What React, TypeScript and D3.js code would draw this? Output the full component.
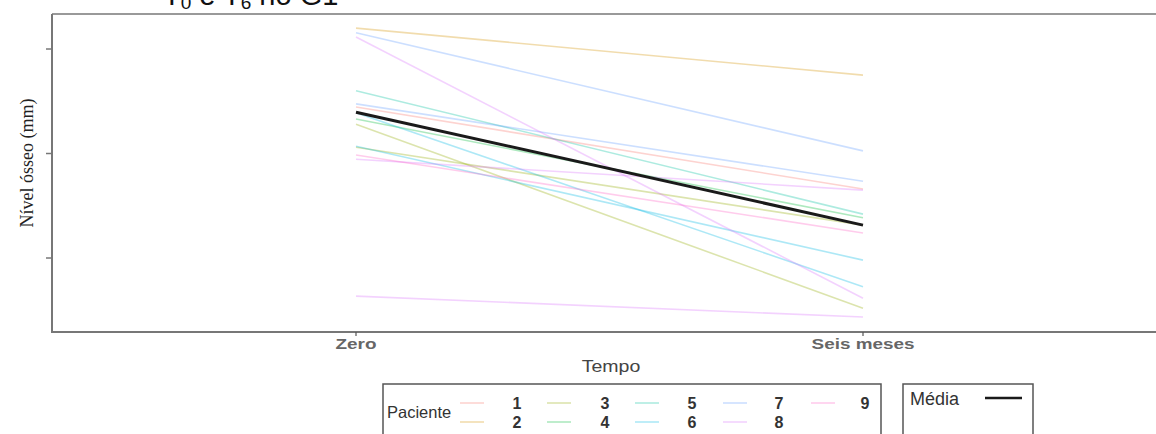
import React from 'react';
import * as d3 from 'd3';

// dados (nível ósseo em cada tempo)
const tempos = ['Zero', 'Seis meses'];
const pacientes = ['1', '2', '3', '4', '5', '6', '7', '8', '9'];
const linhaPaciente = ['1', '2', '3', '3', '4', '5', '6', '6', '7', '7', '8', '8', '8', '9'];
const valoresZero = [4.89, 6.40, 4.56, 4.12, 4.66, 5.20, 4.14, 4.78, 6.31, 4.95, 6.23, 3.89, 1.27, 3.97];
const valoresSeis = [3.32, 5.50, 1.04, 2.63, 2.77, 2.84, 1.96, 1.45, 4.05, 3.47, 1.23, 3.30, 0.87, 2.48];
const mediaValores = [4.79, 2.63];
const yTicks = [2, 4, 6];

const cores = ['#F8766D', '#D39200', '#93AA00', '#00BA38', '#00C19F', '#00B9E3', '#619CFF', '#DB72FB', '#FF61C3'];

const W = 1156;
const H = 434;
const sans = 'Liberation Sans, Arial, sans-serif';

const App = () => {
  const x = d3.scalePoint<string>().domain(tempos).range([356, 863]);
  const y = d3.scaleLinear().domain([0.603, 6.67]).range([331, 14]);
  const cor = d3.scaleOrdinal<string, string>().domain(pacientes).range(cores);

  const line = d3.line<number>()
    .x((_, i) => x(tempos[i]) as number)
    .y(d => y(d));

  // legenda: pacientes em colunas de 2
  const colKey = [472, 559, 647, 735, 823];
  const colLab = [517, 605, 692, 779, 865];
  const rowY = [403, 422];

  return (
    <svg width={W} height={H} style={{ position: 'absolute', left: 0, top: 0, background: '#fff' }}>
      {/* título cortado no topo */}
      <text x={163} y={5} fontFamily={sans} fontSize={29} fill="#111">
        T<tspan fontSize={19} dy={4}>0</tspan><tspan dy={-4}> e T</tspan>
        <tspan fontSize={19} dy={4}>6</tspan><tspan dy={-4}> no G1</tspan>
      </text>

      {/* moldura */}
      <line x1={52} x2={W} y1={14} y2={14} stroke="#999" strokeWidth={2} />
      <line x1={52} x2={W} y1={332} y2={332} stroke="#777" strokeWidth={2} />
      <line x1={52} x2={52} y1={14} y2={333} stroke="#777" strokeWidth={2} />
      {yTicks.map(t => (
        <line key={t} x1={46} x2={52} y1={y(t)} y2={y(t)} stroke="#777" strokeWidth={1.5} />
      ))}
      {tempos.map(t => (
        <line key={t} x1={x(t)} x2={x(t)} y1={332} y2={336} stroke="#555" strokeWidth={1.2} />
      ))}

      {/* linhas dos pacientes */}
      {linhaPaciente.map((p, i) => (
        <path key={i} d={line([valoresZero[i], valoresSeis[i]]) as string}
          fill="none" stroke={cor(p)} strokeOpacity={0.32} strokeWidth={1.6} />
      ))}
      <path d={line(mediaValores) as string} fill="none" stroke="#1a1a1a" strokeWidth={3} />

      {/* eixos */}
      {tempos.map(t => (
        <text key={t} transform={`translate(${x(t)},349) scale(1.35,1)`} textAnchor="middle"
          fontFamily={sans} fontSize={14} fontWeight="bold" fill="#666">{t}</text>
      ))}
      <text transform="translate(611,372) scale(1.15,1)" textAnchor="middle" fontFamily={sans}
        fontSize={17} fill="#444">Tempo</text>
      <text transform="translate(33,163) rotate(-90)" textAnchor="middle"
        fontFamily="Liberation Serif, DejaVu Serif, serif" fontSize={18} fill="#222">Nível ósseo (mm)</text>

      {/* legenda Paciente */}
      <rect x={383} y={384} width={498} height={60} fill="#fff" stroke="#555" strokeWidth={1.5} />
      <text x={387} y={418} fontFamily={sans} fontSize={16.5} fill="#333">Paciente</text>
      {pacientes.map((p, i) => {
        const c = Math.floor(i / 2);
        const r = i % 2;
        return (
          <g key={p}>
            <line x1={colKey[c] - 12} x2={colKey[c] + 12} y1={rowY[r]} y2={rowY[r]}
              stroke={cor(p)} strokeOpacity={0.32} strokeWidth={1.6} />
            <text x={colLab[c]} y={rowY[r] + 5.5} textAnchor="middle" fontFamily={sans}
              fontSize={16} fontWeight="bold" fill="#333">{p}</text>
          </g>
        );
      })}

      {/* legenda Média */}
      <rect x={903} y={384} width={130} height={60} fill="#fff" stroke="#555" strokeWidth={1.5} />
      <text x={910} y={405} fontFamily={sans} fontSize={18} fill="#333">Média</text>
      <line x1={985} x2={1022} y1={398} y2={398} stroke="#1a1a1a" strokeWidth={2.5} />
    </svg>
  );
};

export default App;
